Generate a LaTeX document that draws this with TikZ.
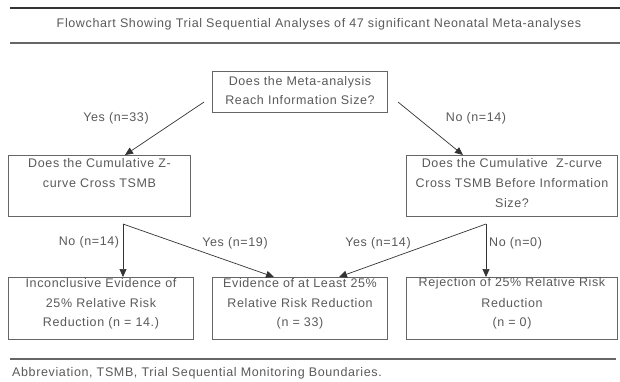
\documentclass[tikz,border=0pt]{standalone}
\usepackage{fontspec}
\setmainfont[LetterSpace=5]{Liberation Sans}
\usetikzlibrary{arrows.meta,calc}
\definecolor{txt}{HTML}{5A5A5A}
\definecolor{ln}{HTML}{666666}
\definecolor{rule}{HTML}{333333}
\begin{document}
\begin{tikzpicture}[x=1pt,y=-1pt,
  every node/.style={text=txt, font=\fontsize{12.5}{20}\selectfont},
  box/.style={draw=ln, line width=1pt, rectangle, anchor=north west, inner sep=0pt, align=center},
  lab/.style={inner sep=0pt},
  conn/.style={draw=rule, line width=0.7pt, -{Triangle[length=8pt,width=7pt]}},
  seg/.style={draw=rule, line width=0.7pt}]
\path[use as bounding box] (0,0) rectangle (620,381);
\fill[white] (0,0) rectangle (620,381);
% rules
\coordinate (t1a) at (10,7.5); \coordinate (t1b) at (620,7.5);
\draw[rule, line width=2pt] (t1a) -- (t1b);
\coordinate (t2a) at (10,43); \coordinate (t2b) at (620,43);
\draw[ln, line width=1.5pt] (t2a) -- (t2b);
\node[lab] (title) at (319,24) {Flowchart Showing Trial Sequential Analyses of 47 significant Neonatal Meta-analyses};
% boxes
\node[box, minimum width=175, minimum height=41] (q1) at (212,71) {};
\node at ($(q1.north)+(0,11)$) (q1a) {Does the Meta-analysis};
\node at ($(q1.north)+(0,29)$) (q1b) {Reach Information Size?};
\node[box, minimum width=182, minimum height=61] (q2) at (8,155) {};
\node at ($(q2.north)+(0,8)$) (q2a) {Does the Cumulative Z-};
\node at ($(q2.north)+(0,28)$) (q2b) {curve Cross TSMB};
\node[box, minimum width=211, minimum height=61] (q3) at (406,155) {};
\node at ($(q3.north)+(0,8)$) (q3a) {Does the Cumulative\ \ Z-curve};
\node at ($(q3.north)+(0,28)$) (q3b) {Cross TSMB Before Information};
\node at ($(q3.north)+(0,48)$) (q3c) {Size?};
\node[box, minimum width=185, minimum height=62] (r1) at (8,277) {};
\node at ($(r1.north)+(0,6)$) (r1a) {Inconclusive Evidence of};
\node at ($(r1.north)+(0,26)$) (r1b) {25\% Relative Risk};
\node at ($(r1.north)+(0,46)$) (r1c) {Reduction (n = 14.)};
\node[box, minimum width=175, minimum height=62] (r2) at (212,277) {};
\node at ($(r2.north)+(0,6)$) (r2a) {Evidence of at Least 25\%};
\node at ($(r2.north)+(0,26)$) (r2b) {Relative Risk Reduction};
\node at ($(r2.north)+(0,46)$) (r2c) {(n = 33)};
\node[box, minimum width=211, minimum height=62] (r3) at (406,277) {};
\node at ($(r3.north)+(0,6)$) (r3a) {Rejection of 25\% Relative Risk};
\node at ($(r3.north)+(0,26)$) (r3b) {Reduction};
\node at ($(r3.north)+(0,46)$) (r3c) {(n = 0)};
% connectors top
\coordinate (s1) at ($(q1.west)+(-8,10)$);
\coordinate (s2) at ($(q1.east)+(10,10)$);
\draw[conn] (s1) -- (q2.north -| 125,0);
\draw[conn] (s2) -- (q3.north -| 463,0);
\node[lab] (y33) at (116,118) {Yes (n=33)};
\node[lab] (n14a) at (476,118) {No (n=14)};
% connectors bottom
\coordinate (b1) at ($(q2.south -| 123,0)+(0,7)$);
\coordinate (b2) at ($(q3.south -| 486,0)+(0,7)$);
\draw[conn] (b1) -- (r1.north -| b1);
\draw[conn] (b1) -- (r2.north -| 274,0);
\draw[conn] (b2) -- (r3.north -| b2);
\draw[conn] (b2) -- (r2.north -| 339,0);
\node[lab] (n14b) at (89,242) {No (n=14)};
\node[lab] (y19) at (235,243) {Yes (n=19)};
\node[lab] (y14) at (378,243) {Yes (n=14)};
\node[lab, anchor=west] (n0) at (489,243) {No (n=0)};
% footer
\coordinate (f1) at (10,359); \coordinate (f2) at (616,359);
\draw[ln, line width=1.5pt] (f1) -- (f2);
\node[lab, anchor=west] (abbr) at (12,373) {Abbreviation, TSMB, Trial Sequential Monitoring Boundaries.};
\end{tikzpicture}
\end{document}
